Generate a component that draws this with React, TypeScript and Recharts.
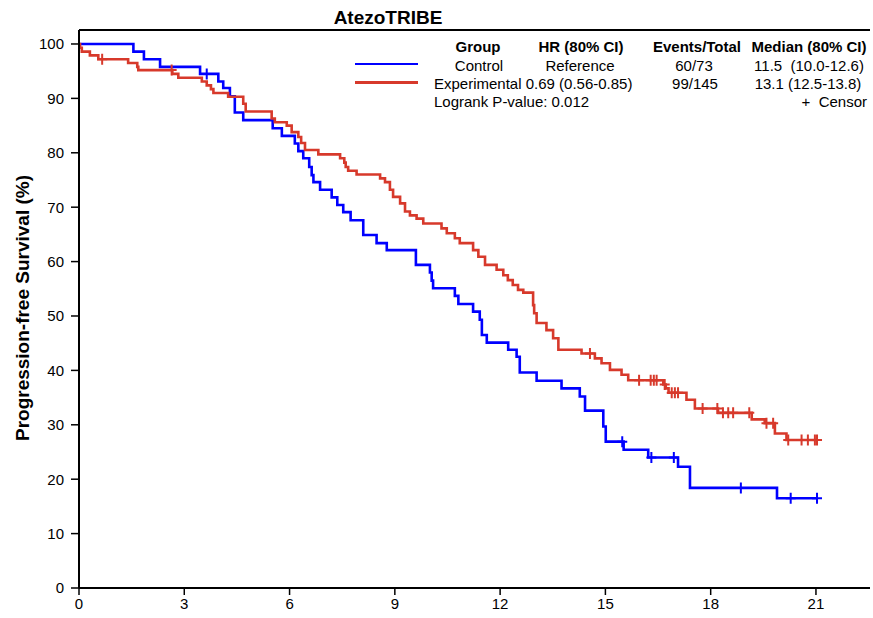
import React from 'react';
import { ComposedChart, Line, XAxis, YAxis, ReferenceLine } from 'recharts';

// ---- data ----
const xTicks = [0, 3, 6, 9, 12, 15, 18, 21];
const yTicks = [0, 10, 20, 30, 40, 50, 60, 70, 80, 90, 100];

const controlTimes = [0, 1.55, 1.85, 2.31, 3.45, 3.97, 4.11, 4.3, 4.44, 4.68, 5.52, 5.78, 6.15, 6.25, 6.39, 6.56, 6.63, 6.68, 6.87, 7.2, 7.36, 7.53, 7.74, 8.1, 8.48, 8.77, 9.6, 10.0, 10.05, 10.09, 10.71, 10.81, 11.23, 11.42, 11.48, 11.62, 12.23, 12.47, 12.56, 13.04, 13.75, 14.27, 14.42, 14.94, 15.01, 15.52, 16.22, 17.07, 17.41, 19.89];
const controlSurvival = [100, 98.6, 97.2, 95.8, 94.5, 93.1, 91.9, 90.4, 87.4, 86.0, 84.5, 83.1, 81.7, 80.3, 79.0, 77.4, 75.9, 74.6, 73.2, 71.8, 70.4, 69.1, 67.6, 64.9, 63.4, 62.1, 59.4, 58.0, 56.5, 55.1, 53.7, 52.2, 50.8, 49.3, 46.5, 45.1, 43.8, 42.5, 39.6, 38.1, 36.7, 35.2, 32.6, 29.7, 26.9, 25.4, 24.0, 22.3, 18.4, 16.5];
const controlCensorTimes = [3.64, 15.48, 16.31, 16.95, 18.86, 20.28, 21.03];

const expTimes = [0, 0.03, 0.08, 0.31, 0.55, 1.4, 1.66, 1.69, 2.66, 2.83, 3.5, 3.64, 3.76, 3.83, 4.25, 4.68, 4.75, 5.49, 5.58, 5.92, 6.06, 6.25, 6.33, 6.44, 6.82, 7.44, 7.56, 7.6, 7.67, 7.91, 8.58, 8.72, 8.86, 8.95, 9.15, 9.29, 9.43, 9.62, 9.81, 10.33, 10.48, 10.71, 10.85, 11.23, 11.38, 11.57, 11.9, 12.09, 12.22, 12.36, 12.51, 12.66, 12.94, 12.97, 13.04, 13.32, 13.51, 13.66, 14.32, 14.7, 14.89, 15.13, 15.46, 15.65, 16.65, 16.72, 16.8, 17.31, 17.55, 18.21, 19.17, 19.54, 19.83, 20.16];
const expSurvival = [100, 99.3, 98.6, 97.9, 97.2, 96.5, 95.8, 95.2, 94.5, 93.8, 93.1, 92.4, 91.7, 91.0, 90.3, 89.0, 87.6, 86.3, 85.6, 85.0, 83.8, 82.9, 81.8, 80.5, 79.7, 79.0, 78.2, 77.4, 76.7, 76.0, 75.3, 74.6, 73.2, 71.9, 70.7, 69.2, 68.5, 67.9, 67.0, 66.1, 65.2, 64.3, 63.4, 62.1, 60.9, 59.4, 58.5, 57.5, 56.6, 55.7, 54.8, 54.3, 52.0, 50.5, 48.7, 47.4, 45.9, 43.8, 43.1, 42.2, 41.3, 40.1, 39.2, 38.2, 37.4, 36.7, 35.9, 34.6, 33.0, 32.2, 31.0, 30.3, 28.4, 27.2];
const expCensorTimes = [0.66, 2.64, 14.56, 15.96, 16.29, 16.38, 16.46, 16.69, 16.89, 16.98, 17.07, 17.77, 18.19, 18.35, 18.5, 18.64, 19.1, 19.59, 19.78, 20.21, 20.59, 20.77, 20.97, 21.03];

const headers = ['Group', 'HR (80% CI)', 'Events/Total', 'Median (80% CI)'];
const controlRow = ['Control', 'Reference', '60/73', '11.5  (10.0-12.6)'];
const expRow = ['Experimental', '0.69 (0.56-0.85)', '99/145', '13.1 (12.5-13.8)'];
const pValueText = 'Logrank P-value: 0.012';

const BLUE = '#0000FF';
const RED = '#D7392B';
const FONT = '"Liberation Sans", Arial, sans-serif';

type Pt = { t: number; s: number; censor: boolean };

function buildSeries(times: number[], surv: number[], censors: number[]): Pt[] {
  const pts: Pt[] = times.map((t, i) => ({ t, s: surv[i], censor: false }));
  censors.forEach((c) => {
    let s = surv[0];
    times.forEach((t, i) => {
      if (t <= c) s = surv[i];
    });
    pts.push({ t: c, s, censor: true });
  });
  pts.sort((a, b) => a.t - b.t);
  return pts;
}

const controlData = buildSeries(controlTimes, controlSurvival, controlCensorTimes);
const expData = buildSeries(expTimes, expSurvival, expCensorTimes);

const censorDot = (color: string) => (props: any) => {
  const { cx, cy, payload, index } = props;
  if (!payload || !payload.censor || cx == null || cy == null) return <g key={`d${index}`} />;
  return (
    <path
      key={`d${index}`}
      d={`M${cx - 5},${cy}H${cx + 5}M${cx},${cy - 5.5}V${cy + 5.5}`}
      stroke={color}
      strokeWidth={2}
      fill="none"
    />
  );
};

const Txt = ({ x, y, children, anchor = 'middle', size = 15, bold = false }: any) => {
  const tx = anchor === 'middle' ? '-50%' : anchor === 'end' ? '-100%' : '0';
  return (
    <div
      style={{
        position: 'absolute',
        left: x,
        top: y,
        transform: `translate(${tx}, -50%)`,
        fontFamily: FONT,
        fontSize: size,
        fontWeight: bold ? 700 : 400,
        lineHeight: 1,
        whiteSpace: 'pre',
        color: '#000',
      }}
    >
      {children}
    </div>
  );
};

export default function App() {
  return (
    <div style={{ position: 'absolute', left: 0, top: 0, width: 873, height: 618, background: '#fff' }}>
      <ComposedChart width={873} height={618} margin={{ top: 30, right: 3, bottom: 0, left: 0 }}>
        <XAxis
          type="number"
          dataKey="t"
          domain={[0, 22.54]}
          ticks={xTicks}
          allowDataOverflow
          height={30}
          tickSize={7}
          tickMargin={3}
          axisLine={{ stroke: '#000', strokeWidth: 2 }}
          tickLine={{ stroke: '#000', strokeWidth: 1.5 }}
          tick={{ fill: '#000', fontSize: 15, fontFamily: FONT }}
        />
        <YAxis
          type="number"
          domain={[0, 102.57]}
          ticks={yTicks}
          allowDataOverflow
          width={79}
          tickSize={8}
          tickMargin={7}
          axisLine={{ stroke: '#000', strokeWidth: 2 }}
          tickLine={{ stroke: '#000', strokeWidth: 1.5 }}
          tick={{ fill: '#000', fontSize: 15, fontFamily: FONT }}
        />
        <ReferenceLine y={102.57} stroke="#000" strokeWidth={2} ifOverflow="extendDomain" />
        <Line
          data={controlData}
          dataKey="s"
          type="stepAfter"
          stroke={BLUE}
          strokeWidth={2.6}
          dot={censorDot(BLUE)}
          activeDot={false}
          isAnimationActive={false}
        />
        <Line
          data={expData}
          dataKey="s"
          type="stepAfter"
          stroke={RED}
          strokeWidth={2.6}
          dot={censorDot(RED)}
          activeDot={false}
          isAnimationActive={false}
        />
      </ComposedChart>

      <Txt x={388} y={17} size={19} bold>AtezoTRIBE</Txt>
      <div
        style={{
          position: 'absolute',
          left: 22,
          top: 308,
          transform: 'translate(-50%, -50%) rotate(-90deg)',
          fontFamily: FONT,
          fontSize: 19,
          fontWeight: 700,
          whiteSpace: 'nowrap',
          lineHeight: 1,
        }}
      >
        Progression-free Survival (%)
      </div>

      <Txt x={478} y={46} bold>{headers[0]}</Txt>
      <Txt x={581} y={46} bold>{headers[1]}</Txt>
      <Txt x={697} y={46} bold>{headers[2]}</Txt>
      <Txt x={809} y={46} bold>{headers[3]}</Txt>

      <div style={{ position: 'absolute', left: 355, top: 62.5, width: 63, height: 2.5, background: BLUE }} />
      <Txt x={479} y={65}>{controlRow[0]}</Txt>
      <Txt x={580} y={65}>{controlRow[1]}</Txt>
      <Txt x={694} y={65}>{controlRow[2]}</Txt>
      <Txt x={809} y={65}>{controlRow[3]}</Txt>

      <div style={{ position: 'absolute', left: 355, top: 81, width: 63, height: 2.5, background: RED }} />
      <Txt x={434} y={83} anchor="start">{expRow[0] + ' ' + expRow[1]}</Txt>
      <Txt x={695} y={83}>{expRow[2]}</Txt>
      <Txt x={808} y={83}>{expRow[3]}</Txt>

      <Txt x={434} y={101} anchor="start">{pValueText}</Txt>
      <Txt x={867} y={101} anchor="end">+  Censor</Txt>
    </div>
  );
}
